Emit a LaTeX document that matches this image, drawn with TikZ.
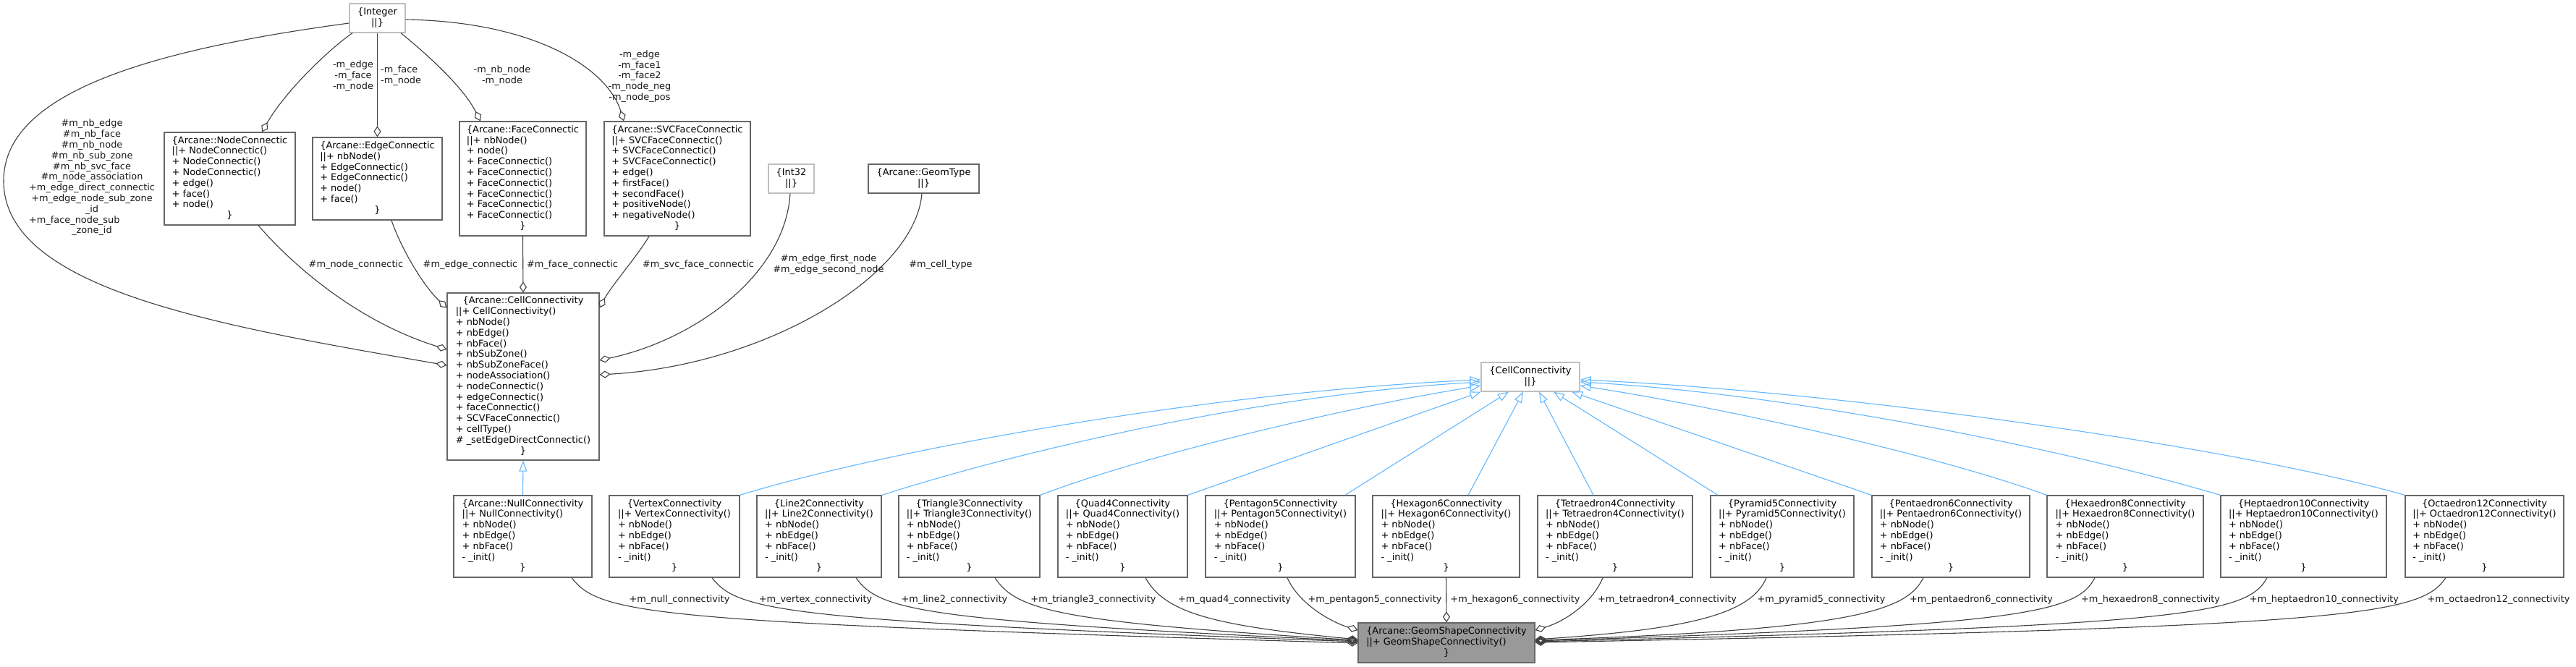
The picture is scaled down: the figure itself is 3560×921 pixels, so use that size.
\documentclass[tikz,border=0pt]{standalone}
\usepackage{fontspec}
\setmainfont{DejaVu Sans}
\usetikzlibrary{arrows.meta}
\definecolor{edgegrey}{HTML}{404040}
\definecolor{labelgrey}{HTML}{1A1A1A}
\definecolor{boxgrey}{HTML}{666666}
\definecolor{undocgrey}{HTML}{BFBFBF}
\definecolor{rootfill}{HTML}{999999}
\definecolor{inhblue}{HTML}{63B8FF}
% class box text: centred title, left members, centred closing brace
\newcommand{\members}[2]{\begin{tabular}{@{}l@{}}\multicolumn{1}{@{}c@{}}{#1}\\#2\\\multicolumn{1}{@{}c@{}}{\}}\end{tabular}}
\newcommand{\shapecls}[1]{\members{\{#1}{||+ #1()\\+ nbNode()\\+ nbEdge()\\+ nbFace()\\- \_init()}}
\newcommand{\plaincls}[1]{\begin{tabular}{@{}c@{}}\{#1\\||\}\end{tabular}}
\begin{document}
\begin{tikzpicture}[x=1pt, y=-1pt,
  every node/.style={font=\fontsize{12.9}{14.8}\selectfont, inner sep=0pt},
  cls/.style 2 args={draw=boxgrey, line width=1.3pt, fill=white, minimum width=#1pt, minimum height=#2pt},
  undoc/.style 2 args={cls={#1}{#2}, draw=undocgrey},
  root/.style 2 args={cls={#1}{#2}, fill=rootfill},
  lbl/.style={text=labelgrey, align=center},
  agg/.style={draw=edgegrey, line width=1.1pt, {Diamond[open, length=15pt, width=10pt]}-},
  inh/.style={draw=inhblue, line width=1.1pt, -{Triangle[open, length=15pt, width=11pt]}}]
\fill[white] (0,0) rectangle (3560,921);
\useasboundingbox (0,0) rectangle (3560,921);
% top rows
\node[undoc={77}{40}] (integer) at (521.5,25) {\plaincls{Integer}};
\node[cls={181}{128}] (nodec) at (317.5,247) {\members{\{Arcane::NodeConnectic}{||+ NodeConnectic()\\+ NodeConnectic()\\+ NodeConnectic()\\+ edge()\\+ face()\\+ node()}};
\node[cls={179}{114}] (edgec) at (521.5,247) {\members{\{Arcane::EdgeConnectic}{||+ nbNode()\\+ EdgeConnectic()\\+ EdgeConnectic()\\+ node()\\+ face()}};
\node[cls={175}{158}] (facec) at (722.5,247) {\members{\{Arcane::FaceConnectic}{||+ nbNode()\\+ node()\\+ FaceConnectic()\\+ FaceConnectic()\\+ FaceConnectic()\\+ FaceConnectic()\\+ FaceConnectic()\\+ FaceConnectic()}};
\node[cls={202}{158}] (svcfc) at (936,247) {\members{\{Arcane::SVCFaceConnectic}{||+ SVCFaceConnectic()\\+ SVCFaceConnectic()\\+ SVCFaceConnectic()\\+ edge()\\+ firstFace()\\+ secondFace()\\+ positiveNode()\\+ negativeNode()}};
\node[undoc={63}{40}] (int32) at (1093.5,247) {\plaincls{Int32}};
\node[cls={153}{40}] (geomtype) at (1276.5,247) {\plaincls{Arcane::GeomType}};
\node[cls={210}{231}] (acell) at (723,520.5) {\members{\{Arcane::CellConnectivity}{||+ CellConnectivity()\\+ nbNode()\\+ nbEdge()\\+ nbFace()\\+ nbSubZone()\\+ nbSubZoneFace()\\+ nodeAssociation()\\+ nodeConnectic()\\+ edgeConnectic()\\+ faceConnectic()\\+ SCVFaceConnectic()\\+ cellType()\\\# \_setEdgeDirectConnectic()}};
\node[undoc={136}{40}] (cellc) at (2115,521) {\plaincls{CellConnectivity}};
% shape classes
\node[cls={191}{113}] (nullc) at (722.5,741.5) {\members{\{Arcane::NullConnectivity}{||+ NullConnectivity()\\+ nbNode()\\+ nbEdge()\\+ nbFace()\\- \_init()}};
\node[cls={180}{113}] (vertexc) at (932,741.5) {\shapecls{VertexConnectivity}};
\node[cls={172}{113}] (line2c) at (1132,741.5) {\shapecls{Line2Connectivity}};
\node[cls={195}{113}] (tri3c) at (1339.5,741.5) {\shapecls{Triangle3Connectivity}};
\node[cls={179}{113}] (quad4c) at (1551.5,741.5) {\shapecls{Quad4Connectivity}};
\node[cls={207}{113}] (pent5c) at (1769.5,741.5) {\shapecls{Pentagon5Connectivity}};
\node[cls={203}{113}] (hex6c) at (1998.5,741.5) {\shapecls{Hexagon6Connectivity}};
\node[cls={214}{113}] (tet4c) at (2232,741.5) {\shapecls{Tetraedron4Connectivity}};
\node[cls={198}{113}] (pyr5c) at (2463,741.5) {\shapecls{Pyramid5Connectivity}};
\node[cls={218}{113}] (penta6c) at (2696,741.5) {\shapecls{Pentaedron6Connectivity}};
\node[cls={216}{113}] (hexa8c) at (2937,741.5) {\shapecls{Hexaedron8Connectivity}};
\node[cls={229}{113}] (hepta10c) at (3183.5,741.5) {\shapecls{Heptaedron10Connectivity}};
\node[cls={219}{113}] (octa12c) at (3433.5,741.5) {\shapecls{Octaedron12Connectivity}};
\node[root={244}{55}] (geomshape) at (1999,888.5) {\members{\{Arcane::GeomShapeConnectivity}{||+ GeomShapeConnectivity()}};
% members of Integer
\draw[agg] ([yshift=15.5pt]acell.west) .. controls (300,450) and (5,400) .. (5,250) .. controls (5,130) and (200,70) .. ([yshift=-7pt]integer.west);
\draw[agg] ([xshift=44.5pt]nodec.north) .. controls (395,125) and (455,68) .. ([xshift=-34.5pt]integer.south);
\draw[agg] (edgec.north) -- (integer.south);
\draw[agg] ([xshift=-58.5pt]facec.north) .. controls (640,120) and (590,75) .. ([xshift=32.5pt]integer.south);
\draw[agg] ([xshift=-74pt]svcfc.north) .. controls (840,95) and (740,30) .. ([yshift=-2pt]integer.east);
\node[lbl] (lnbs) at (127,246) {\begin{tabular}{@{}c@{}}\#m\_nb\_edge\\\#m\_nb\_face\\\#m\_nb\_node\\\#m\_nb\_sub\_zone\\\#m\_nb\_svc\_face\\\#m\_node\_association\\+m\_edge\_direct\_connectic\\+m\_edge\_node\_sub\_zone\\\_id\\\multicolumn{1}{@{}l@{}}{+m\_face\_node\_sub}\\\_zone\_id\end{tabular}};
\node[lbl] (lnodes) at (488,105) {-m\_edge\\-m\_face\\-m\_node};
\node[lbl, anchor=west, align=left] (ledges) at (526,105) {-m\_face\\-m\_node};
\node[lbl] (lfaces) at (694,105) {-m\_nb\_node\\-m\_node};
\node[lbl] (lsvcs) at (884,105.5) {-m\_edge\\-m\_face1\\-m\_face2\\-m\_node\_neg\\-m\_node\_pos};
% members of Arcane::CellConnectivity
\draw[agg] ([yshift=37.5pt]acell.west) .. controls (480,440) and (390,350) .. ([xshift=39.5pt]nodec.south);
\draw[agg] ([yshift=95pt]acell.west) .. controls (585,395) and (555,345) .. ([xshift=19.5pt]edgec.south);
\draw[agg] (acell.north) -- (facec.south);
\draw[agg] ([yshift=95pt]acell.east) .. controls (845,395) and (880,355) .. ([xshift=-39pt]svcfc.south);
\draw[agg] ([yshift=22.5pt]acell.east) .. controls (960,470) and (1085,380) .. ([xshift=-1.5pt]int32.south);
\draw[agg] ([yshift=2.5pt]acell.east) .. controls (1060,505) and (1265,380) .. ([xshift=-2.5pt]geomtype.south);
\node[lbl] (lnodec) at (492,366) {\#m\_node\_connectic};
\node[lbl] (ledgec) at (650,366) {\#m\_edge\_connectic};
\node[lbl] (lfacec) at (791,366) {\#m\_face\_connectic};
\node[lbl] (lsvcc) at (965,366) {\#m\_svc\_face\_connectic};
\node[lbl] (lends) at (1145,366) {\#m\_edge\_first\_node\\\#m\_edge\_second\_node};
\node[lbl] (ltype) at (1300,366) {\#m\_cell\_type};
% inheritance
\draw[inh] (nullc.north) -- (acell.south);
\draw[inh] (vertexc.north east) .. controls (1250,615) and (1700,540) .. ([yshift=-4pt]cellc.west);
\draw[inh] (line2c.north east) .. controls (1420,620) and (1750,545) .. ([yshift=-7pt]cellc.west);
\draw[inh] (tri3c.north east) .. controls (1580,630) and (1850,565) .. ([yshift=-12pt]cellc.west);
\draw[inh] (quad4c.north east) -- (cellc.south west);
\draw[inh] ([xshift=89.5pt]pent5c.north) -- ([xshift=-30pt]cellc.south);
\draw[inh] ([xshift=30.5pt]hex6c.north) -- ([xshift=-10pt]cellc.south);
\draw[inh] ([xshift=-30pt]tet4c.north) -- ([xshift=12pt]cellc.south);
\draw[inh] ([xshift=-89pt]pyr5c.north) -- ([xshift=32pt]cellc.south);
\draw[inh] (penta6c.north west) -- ([xshift=57pt]cellc.south);
\draw[inh] (hexa8c.north west) .. controls (2680,630) and (2390,565) .. ([yshift=-12pt]cellc.east);
\draw[inh] (hepta10c.north west) .. controls (2850,620) and (2480,545) .. ([yshift=-7pt]cellc.east);
\draw[inh] (octa12c.north west) .. controls (3080,615) and (2530,540) .. ([yshift=-4pt]cellc.east);
% members of Arcane::GeomShapeConnectivity
\draw[agg] ([yshift=-0.5pt]geomshape.west) .. controls (900,860) and (830,850) .. ([xshift=67.5pt]nullc.south);
\draw[agg] ([yshift=1.5pt]geomshape.west) .. controls (1080,858) and (1020,845) .. ([xshift=52pt]vertexc.south);
\draw[agg] ([yshift=2.5pt]geomshape.west) .. controls (1280,858) and (1215,845) .. ([xshift=51pt]line2c.south);
\draw[agg] ([yshift=3.5pt]geomshape.west) .. controls (1470,860) and (1405,845) .. ([xshift=35.5pt]tri3c.south);
\draw[agg] ([yshift=4.5pt]geomshape.west) .. controls (1680,865) and (1610,848) .. ([xshift=31.5pt]quad4c.south);
\draw[agg] ([yshift=17.5pt]geomshape.west) .. controls (1840,860) and (1795,835) .. ([xshift=9.5pt]pent5c.south);
\draw[agg] (geomshape.north) -- (hex6c.south);
\draw[agg] ([yshift=17.5pt]geomshape.east) .. controls (2160,860) and (2200,835) .. ([xshift=-17pt]tet4c.south);
\draw[agg] ([yshift=4.5pt]geomshape.east) .. controls (2330,870) and (2420,850) .. ([xshift=-22pt]pyr5c.south);
\draw[agg] ([yshift=3.5pt]geomshape.east) .. controls (2560,870) and (2635,845) .. ([xshift=-38pt]penta6c.south);
\draw[agg] ([yshift=2.5pt]geomshape.east) .. controls (2790,865) and (2870,848) .. ([xshift=-42pt]hexa8c.south);
\draw[agg] ([yshift=1.5pt]geomshape.east) .. controls (3020,865) and (3105,850) .. ([xshift=-50.5pt]hepta10c.south);
\draw[agg] ([yshift=0.5pt]geomshape.east) .. controls (3260,867) and (3345,850) .. ([xshift=-53.5pt]octa12c.south);
\node[lbl] (lnull) at (939,829) {+m\_null\_connectivity};
\node[lbl] (lvertex) at (1127,829) {+m\_vertex\_connectivity};
\node[lbl] (lline2) at (1319,829) {+m\_line2\_connectivity};
\node[lbl] (ltri3) at (1511,829) {+m\_triangle3\_connectivity};
\node[lbl] (lquad4) at (1706,829) {+m\_quad4\_connectivity};
\node[lbl] (lpent5) at (1900,829) {+m\_pentagon5\_connectivity};
\node[lbl] (lhex6) at (2094,829) {+m\_hexagon6\_connectivity};
\node[lbl] (ltet4) at (2304,829) {+m\_tetraedron4\_connectivity};
\node[lbl] (lpyr5) at (2517,829) {+m\_pyramid5\_connectivity};
\node[lbl] (lpenta6) at (2738,829) {+m\_pentaedron6\_connectivity};
\node[lbl] (lhexa8) at (2972,829) {+m\_hexaedron8\_connectivity};
\node[lbl] (lhepta10) at (3212,829) {+m\_heptaedron10\_connectivity};
\node[lbl] (locta12) at (3453,829) {+m\_octaedron12\_connectivity};
\end{tikzpicture}
\end{document}
